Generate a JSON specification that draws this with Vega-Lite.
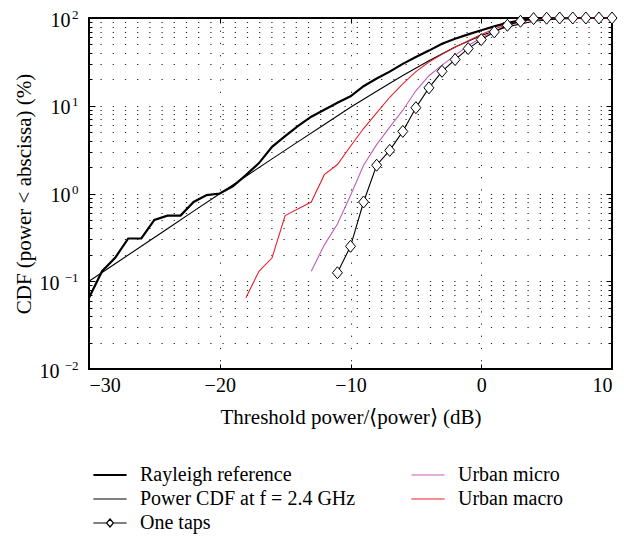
{
  "$schema": "https://vega.github.io/schema/vega-lite/v6.json",
  "autosize": "none",
  "width": 523,
  "height": 351,
  "padding": {"left": 89, "top": 18, "right": 12, "bottom": 169},
  "background": "white",
  "config": {
    "view": {"stroke": "black", "strokeWidth": 2},
    "font": "Liberation Serif",
    "axis": {"labelFont": "Liberation Serif", "titleFont": "Liberation Serif", "labelFontSize": 20, "titleFontSize": 21, "titleFontWeight": "normal", "labelColor": "black", "titleColor": "black", "tickColor": "black", "domain": false}
  },
  "datasets": {
    "curves": [
      {"s": "Rayleigh reference", "x": -30, "y": 0.065},
      {"s": "Rayleigh reference", "x": -29, "y": 0.13},
      {"s": "Rayleigh reference", "x": -28, "y": 0.185},
      {"s": "Rayleigh reference", "x": -27, "y": 0.307},
      {"s": "Rayleigh reference", "x": -26, "y": 0.307},
      {"s": "Rayleigh reference", "x": -25, "y": 0.5},
      {"s": "Rayleigh reference", "x": -24, "y": 0.56},
      {"s": "Rayleigh reference", "x": -23, "y": 0.56},
      {"s": "Rayleigh reference", "x": -22, "y": 0.8},
      {"s": "Rayleigh reference", "x": -21, "y": 0.96},
      {"s": "Rayleigh reference", "x": -20, "y": 1.0},
      {"s": "Rayleigh reference", "x": -19, "y": 1.21},
      {"s": "Rayleigh reference", "x": -18, "y": 1.62},
      {"s": "Rayleigh reference", "x": -17, "y": 2.22},
      {"s": "Rayleigh reference", "x": -16, "y": 3.4},
      {"s": "Rayleigh reference", "x": -15, "y": 4.5},
      {"s": "Rayleigh reference", "x": -14, "y": 5.9},
      {"s": "Rayleigh reference", "x": -13, "y": 7.5},
      {"s": "Rayleigh reference", "x": -12, "y": 9.0},
      {"s": "Rayleigh reference", "x": -11, "y": 10.8},
      {"s": "Rayleigh reference", "x": -10, "y": 12.8},
      {"s": "Rayleigh reference", "x": -9, "y": 16.7},
      {"s": "Rayleigh reference", "x": -8, "y": 20.4},
      {"s": "Rayleigh reference", "x": -7, "y": 24.5},
      {"s": "Rayleigh reference", "x": -6, "y": 30},
      {"s": "Rayleigh reference", "x": -5, "y": 36},
      {"s": "Rayleigh reference", "x": -4, "y": 42.5},
      {"s": "Rayleigh reference", "x": -3, "y": 51},
      {"s": "Rayleigh reference", "x": -2, "y": 58},
      {"s": "Rayleigh reference", "x": -1, "y": 65},
      {"s": "Rayleigh reference", "x": 0, "y": 72.5},
      {"s": "Rayleigh reference", "x": 1, "y": 80.3},
      {"s": "Rayleigh reference", "x": 2, "y": 88},
      {"s": "Rayleigh reference", "x": 3, "y": 94},
      {"s": "Rayleigh reference", "x": 4, "y": 97.7},
      {"s": "Rayleigh reference", "x": 5, "y": 99.2},
      {"s": "Rayleigh reference", "x": 6, "y": 99.8},
      {"s": "Rayleigh reference", "x": 8, "y": 100},
      {"s": "Rayleigh reference", "x": 10, "y": 100},
      {"s": "Power CDF at f = 2.4 GHz", "x": -30, "y": 0.1},
      {"s": "Power CDF at f = 2.4 GHz", "x": -28, "y": 0.158},
      {"s": "Power CDF at f = 2.4 GHz", "x": -26, "y": 0.251},
      {"s": "Power CDF at f = 2.4 GHz", "x": -24, "y": 0.397},
      {"s": "Power CDF at f = 2.4 GHz", "x": -22, "y": 0.629},
      {"s": "Power CDF at f = 2.4 GHz", "x": -20, "y": 0.995},
      {"s": "Power CDF at f = 2.4 GHz", "x": -18, "y": 1.57},
      {"s": "Power CDF at f = 2.4 GHz", "x": -16, "y": 2.48},
      {"s": "Power CDF at f = 2.4 GHz", "x": -14, "y": 3.9},
      {"s": "Power CDF at f = 2.4 GHz", "x": -12, "y": 6.11},
      {"s": "Power CDF at f = 2.4 GHz", "x": -10, "y": 9.6},
      {"s": "Power CDF at f = 2.4 GHz", "x": -8, "y": 14.6},
      {"s": "Power CDF at f = 2.4 GHz", "x": -6, "y": 22.1},
      {"s": "Power CDF at f = 2.4 GHz", "x": -4, "y": 32.6},
      {"s": "Power CDF at f = 2.4 GHz", "x": -2, "y": 46.7},
      {"s": "Power CDF at f = 2.4 GHz", "x": 0, "y": 63.2},
      {"s": "Power CDF at f = 2.4 GHz", "x": 2, "y": 79.5},
      {"s": "Power CDF at f = 2.4 GHz", "x": 4, "y": 91.9},
      {"s": "Power CDF at f = 2.4 GHz", "x": 6, "y": 98.1},
      {"s": "Power CDF at f = 2.4 GHz", "x": 8, "y": 99.8},
      {"s": "Power CDF at f = 2.4 GHz", "x": 10, "y": 100},
      {"s": "Urban micro", "x": -13, "y": 0.13},
      {"s": "Urban micro", "x": -12, "y": 0.26},
      {"s": "Urban micro", "x": -11, "y": 0.45},
      {"s": "Urban micro", "x": -10, "y": 0.95},
      {"s": "Urban micro", "x": -9, "y": 2.1},
      {"s": "Urban micro", "x": -8, "y": 3.6},
      {"s": "Urban micro", "x": -7, "y": 5.7},
      {"s": "Urban micro", "x": -6, "y": 8.9},
      {"s": "Urban micro", "x": -5, "y": 14.8},
      {"s": "Urban micro", "x": -4, "y": 22},
      {"s": "Urban micro", "x": -3, "y": 29},
      {"s": "Urban micro", "x": -2, "y": 37.5},
      {"s": "Urban micro", "x": -1, "y": 48.5},
      {"s": "Urban micro", "x": 0, "y": 59.3},
      {"s": "Urban micro", "x": 1, "y": 70.6},
      {"s": "Urban micro", "x": 2, "y": 81.9},
      {"s": "Urban micro", "x": 3, "y": 90.5},
      {"s": "Urban micro", "x": 4, "y": 96.5},
      {"s": "Urban micro", "x": 5, "y": 98.8},
      {"s": "Urban micro", "x": 6, "y": 99.6},
      {"s": "Urban micro", "x": 8, "y": 100},
      {"s": "Urban micro", "x": 10, "y": 100},
      {"s": "Urban macro", "x": -18, "y": 0.065},
      {"s": "Urban macro", "x": -17, "y": 0.13},
      {"s": "Urban macro", "x": -16, "y": 0.185},
      {"s": "Urban macro", "x": -15, "y": 0.56},
      {"s": "Urban macro", "x": -14, "y": 0.67},
      {"s": "Urban macro", "x": -13, "y": 0.8},
      {"s": "Urban macro", "x": -12, "y": 1.64},
      {"s": "Urban macro", "x": -11, "y": 2.14},
      {"s": "Urban macro", "x": -10, "y": 3.46},
      {"s": "Urban macro", "x": -9, "y": 5.5},
      {"s": "Urban macro", "x": -8, "y": 8.3},
      {"s": "Urban macro", "x": -7, "y": 12.5},
      {"s": "Urban macro", "x": -6, "y": 17.8},
      {"s": "Urban macro", "x": -5, "y": 24.5},
      {"s": "Urban macro", "x": -4, "y": 31.5},
      {"s": "Urban macro", "x": -3, "y": 38.5},
      {"s": "Urban macro", "x": -2, "y": 46.5},
      {"s": "Urban macro", "x": -1, "y": 55},
      {"s": "Urban macro", "x": 0, "y": 65},
      {"s": "Urban macro", "x": 1, "y": 75},
      {"s": "Urban macro", "x": 2, "y": 84},
      {"s": "Urban macro", "x": 3, "y": 91},
      {"s": "Urban macro", "x": 4, "y": 96},
      {"s": "Urban macro", "x": 5, "y": 98.5},
      {"s": "Urban macro", "x": 6, "y": 99.5},
      {"s": "Urban macro", "x": 8, "y": 100},
      {"s": "Urban macro", "x": 10, "y": 100},
      {"s": "One taps", "x": -11, "y": 0.125},
      {"s": "One taps", "x": -10, "y": 0.25},
      {"s": "One taps", "x": -9, "y": 0.8},
      {"s": "One taps", "x": -8, "y": 2.1},
      {"s": "One taps", "x": -7, "y": 3.1},
      {"s": "One taps", "x": -6, "y": 5.1},
      {"s": "One taps", "x": -5, "y": 9.5},
      {"s": "One taps", "x": -4, "y": 16},
      {"s": "One taps", "x": -3, "y": 24.7},
      {"s": "One taps", "x": -2, "y": 33.6},
      {"s": "One taps", "x": -1, "y": 44.8},
      {"s": "One taps", "x": 0, "y": 56.7},
      {"s": "One taps", "x": 1, "y": 69.4},
      {"s": "One taps", "x": 2, "y": 82.6},
      {"s": "One taps", "x": 3, "y": 91.8},
      {"s": "One taps", "x": 4, "y": 98.4},
      {"s": "One taps", "x": 5, "y": 99.5},
      {"s": "One taps", "x": 6, "y": 100},
      {"s": "One taps", "x": 7, "y": 100},
      {"s": "One taps", "x": 8, "y": 100},
      {"s": "One taps", "x": 9, "y": 100},
      {"s": "One taps", "x": 10, "y": 100}
    ]
  },
  "data": {"name": "curves"},
  "resolve": {"axis": {"x": "independent", "y": "independent"}},
  "layer": [
    {
      "mark": {"type": "line", "opacity": 0},
      "encoding": {
        "x": {"field": "x", "type": "quantitative", "scale": {"domain": [-30, 10], "nice": false, "zero": false},
          "axis": {"orient": "bottom", "values": [-20, -10, 0], "grid": true, "gridColor": "#222", "gridDash": [1.2, 11], "gridWidth": 1, "gridOpacity": 1, "ticks": false, "labels": false, "title": null}},
        "y": {"field": "y", "type": "quantitative", "scale": {"type": "log", "domain": [0.01, 100], "nice": false},
          "axis": {"orient": "left", "values": [0.02,0.03,0.04,0.05,0.06,0.07,0.08,0.09,0.1,0.2,0.3,0.4,0.5,0.6,0.7,0.8,0.9,1,2,3,4,5,6,7,8,9,10,20,30,40,50,60,70,80,90], "grid": true, "gridColor": "#222", "gridDash": [1.2, 11], "gridDashOffset": -11, "gridWidth": 1, "gridOpacity": 1, "tickSize": -3, "labels": false, "title": null}},
        "detail": {"field": "s"}
      }
    },
    {
      "mark": {"type": "line", "opacity": 0},
      "encoding": {
        "x": {"field": "x", "type": "quantitative", "axis": null},
        "y": {"field": "y", "type": "quantitative",
          "axis": {"orient": "right", "values": [0.02,0.03,0.04,0.05,0.06,0.07,0.08,0.09,0.2,0.3,0.4,0.5,0.6,0.7,0.8,0.9,2,3,4,5,6,7,8,9,20,30,40,50,60,70,80,90], "grid": false, "tickSize": -4, "labels": false, "title": null}},
        "detail": {"field": "s"}
      }
    },
    {
      "mark": {"type": "line", "opacity": 0},
      "encoding": {
        "x": {"field": "x", "type": "quantitative", "axis": null},
        "y": {"field": "y", "type": "quantitative",
          "axis": {"orient": "left", "values": [0.01, 0.1, 1, 10, 100], "grid": false, "ticks": false, "labelPadding": 11, "labelFontSize": 13, "labelOffset": -4,
            "labelExpr": "datum.value >= 99 ? '2' : datum.value >= 9 ? '1' : datum.value >= 0.9 ? '0' : datum.value >= 0.09 ? '−1' : '−2'", "title": null}},
        "detail": {"field": "s"}
      }
    },
    {
      "mark": {"type": "line"},
      "encoding": {
        "x": {"field": "x", "type": "quantitative",
          "axis": {"orient": "bottom", "values": [-30, -20, -10, 0, 10], "grid": false, "tickSize": -5, "labelPadding": 11, "title": "Threshold power/⟨power⟩ (dB)", "titlePadding": 11}},
        "y": {"field": "y", "type": "quantitative",
          "axis": {"orient": "left", "values": [0.01, 0.1, 1, 10, 100], "grid": false, "tickSize": -6,
            "labelPadding": {"condition": {"test": "datum.value < 0.5", "value": 36}, "value": 25}, "labelOffset": 2,
            "labelExpr": "'10'",
            "title": "CDF (power < abscissa) (%)", "titlePadding": 5}},
        "color": {"field": "s", "type": "nominal",
          "scale": {"domain": ["Rayleigh reference", "Power CDF at f = 2.4 GHz", "One taps", "Urban micro", "Urban macro"], "range": ["black", "black", "black", "#c35db5", "#e8202a"]},
          "legend": {"orient": "none", "legendX": 11, "legendY": 447, "columns": 2, "columnPadding": 53, "rowPadding": 4, "title": null,
            "symbolSize": 275, "labelFont": "Liberation Serif", "labelFontSize": 20, "labelColor": "black", "labelOffset": 20, "labelLimit": 400,
            "encode": {"symbols": {"update": {
              "shape": {"signal": "datum.value === 'One taps' ? 'M-2,0H-0.42M0.42,0H2M0,-0.48L0.42,0L0,0.48L-0.42,0Z' : 'M-2,0H2'"},
              "strokeWidth": {"signal": "datum.value === 'Rayleigh reference' ? 2.2 : 1.2"},
              "fill": {"value": "white"}, "opacity": {"value": 1}}}}}},
        "strokeWidth": {"condition": {"test": "datum.s === 'Rayleigh reference'", "value": 2.2}, "value": 1.1},
        "order": {"field": "x"}
      }
    },
    {
      "transform": [{"filter": "datum.s === 'One taps'"}],
      "mark": {"type": "point", "shape": "M0,-1.2L1,0L0,1.2L-1,0Z", "size": 100, "filled": true, "fill": "white", "stroke": "black", "strokeWidth": 1, "opacity": 1},
      "encoding": {
        "x": {"field": "x", "type": "quantitative",
          "axis": {"orient": "top", "values": [-20, -10, 0], "grid": false, "tickSize": -5, "labels": false, "title": null}},
        "y": {"field": "y", "type": "quantitative",
          "axis": {"orient": "right", "values": [0.01, 0.1, 1, 10, 100], "grid": false, "tickSize": -6, "labels": false, "title": null}}
      }
    }
  ]
}
